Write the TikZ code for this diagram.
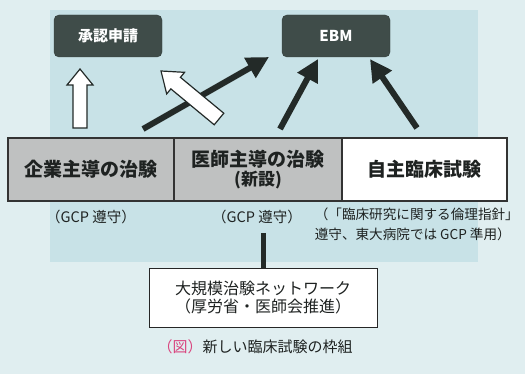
\documentclass[tikz,border=0pt]{standalone}
\usepackage{fontspec}
\setmainfont{Noto Sans CJK JP}
\usetikzlibrary{calc,arrows.meta}
\definecolor{outbg}{HTML}{E0EEF0}
\definecolor{panel}{HTML}{C8E2E7}
\definecolor{darkbox}{HTML}{3F4C49}
\definecolor{arrowc}{HTML}{232A28}
\definecolor{rowgray}{HTML}{BFC1C1}
\definecolor{capred}{HTML}{D9457F}
\definecolor{txt}{HTML}{1E2221}
% hollow arrow: style, from, to, half shaft, half head, head length
\newcommand\harrow[6]{%
  \coordinate (hb) at ($(#3)!#6!(#2)$);
  \draw[#1] ($(#2)!#4!90:(#3)$) -- ($(hb)!#4!90:(#3)$) -- ($(hb)!#5!90:(#3)$)
    -- (#3) -- ($(hb)!#5!-90:(#3)$) -- ($(hb)!#4!-90:(#3)$) -- ($(#2)!#4!-90:(#3)$) -- cycle;}
\tikzset{
  dbox/.style={fill=darkbox, draw=darkbox!80!black, rounded corners=5pt, minimum width=108pt,
    minimum height=42pt, inner sep=0pt, text=white, font=\bfseries\fontsize{15}{17}\selectfont},
  rbox/.style={draw=black!80, line width=1.3pt, minimum height=63pt, inner sep=0pt,
    text=txt, align=center, font=\bfseries\fontsize{19}{21}\selectfont},
  note/.style={text=txt, inner sep=0pt, font=\fontsize{14.5}{20}\selectfont},
  blackarr/.style={draw=arrowc, line width=6pt, -{Triangle[length=22pt,width=22pt]}},
  whitearr/.style={fill=white, draw=arrowc, line width=1.2pt, line join=miter},
}
\begin{document}
\begin{tikzpicture}[x=1pt, y=-1pt]
\useasboundingbox (0,0) rectangle (525,374);
\fill[outbg] (0,0) rectangle (525,374);
\fill[panel] (50,10) rectangle (478,262);

\node[dbox] (ninsho) at (108,36) {承認申請};
\node[dbox] (ebm) at (336,36) {EBM};

\node[rbox, fill=rowgray, minimum width=166pt] (kigyo) at (91,169.5) {企業主導の治験};
\node[rbox, fill=rowgray, minimum width=168pt] (ishi) at (258,169.5) {医師主導の治験\\[-2pt]{\fontsize{17}{19}\selectfont (新設)}};
\node[rbox, fill=white, minimum width=165pt] (jishu) at (424.5,169.5) {自主臨床試験};

\coordinate (t1) at (143,129);
\coordinate (h1) at (269,57);
\coordinate (t2) at (280,129);
\coordinate (h2) at (318,59);
\coordinate (t3) at (417,128);
\coordinate (h3) at (370,59);
\draw[blackarr] (t1) -- (h1);
\draw[blackarr] (t2) -- (h2);
\draw[blackarr] (t3) -- (h3);

\coordinate (wt1) at (80,128);
\coordinate (wh1) at (80,69);
\coordinate (wt2) at (219,119);
\coordinate (wh2) at (161,71);
\harrow{whitearr}{wt1}{wh1}{7pt}{13pt}{16pt}
\harrow{whitearr}{wt2}{wh2}{7.5pt}{14pt}{19pt}

\node[note] (gcp1) at (91,217) {（GCP 遵守）};
\node[note] (gcp2) at (257,217) {（GCP 遵守）};
\node[note, anchor=north east, align=left, font=\fontsize{13.6}{20}\selectfont] (rinri) at (519,208)
  {（「臨床研究に関する倫理指針」\\遵守、東大病院では GCP 準用）};

\node[draw=black!85, line width=1pt, fill=white, minimum width=228pt, minimum height=58pt,
  align=center, text=txt, inner sep=0pt, font=\fontsize{16}{18}\selectfont] (net) at (263,298)
  {大規模治験ネットワーク\\（厚労省・医師会推進）};
\coordinate (vtop) at (263,233);
\draw[arrowc, line width=5pt] (vtop) -- (net.north);

\node[text=txt, inner sep=0pt, font=\fontsize{15}{17}\selectfont] (cap) at (255,347)
  {{\color{capred}（図）}新しい臨床試験の枠組};
\end{tikzpicture}
\end{document}
